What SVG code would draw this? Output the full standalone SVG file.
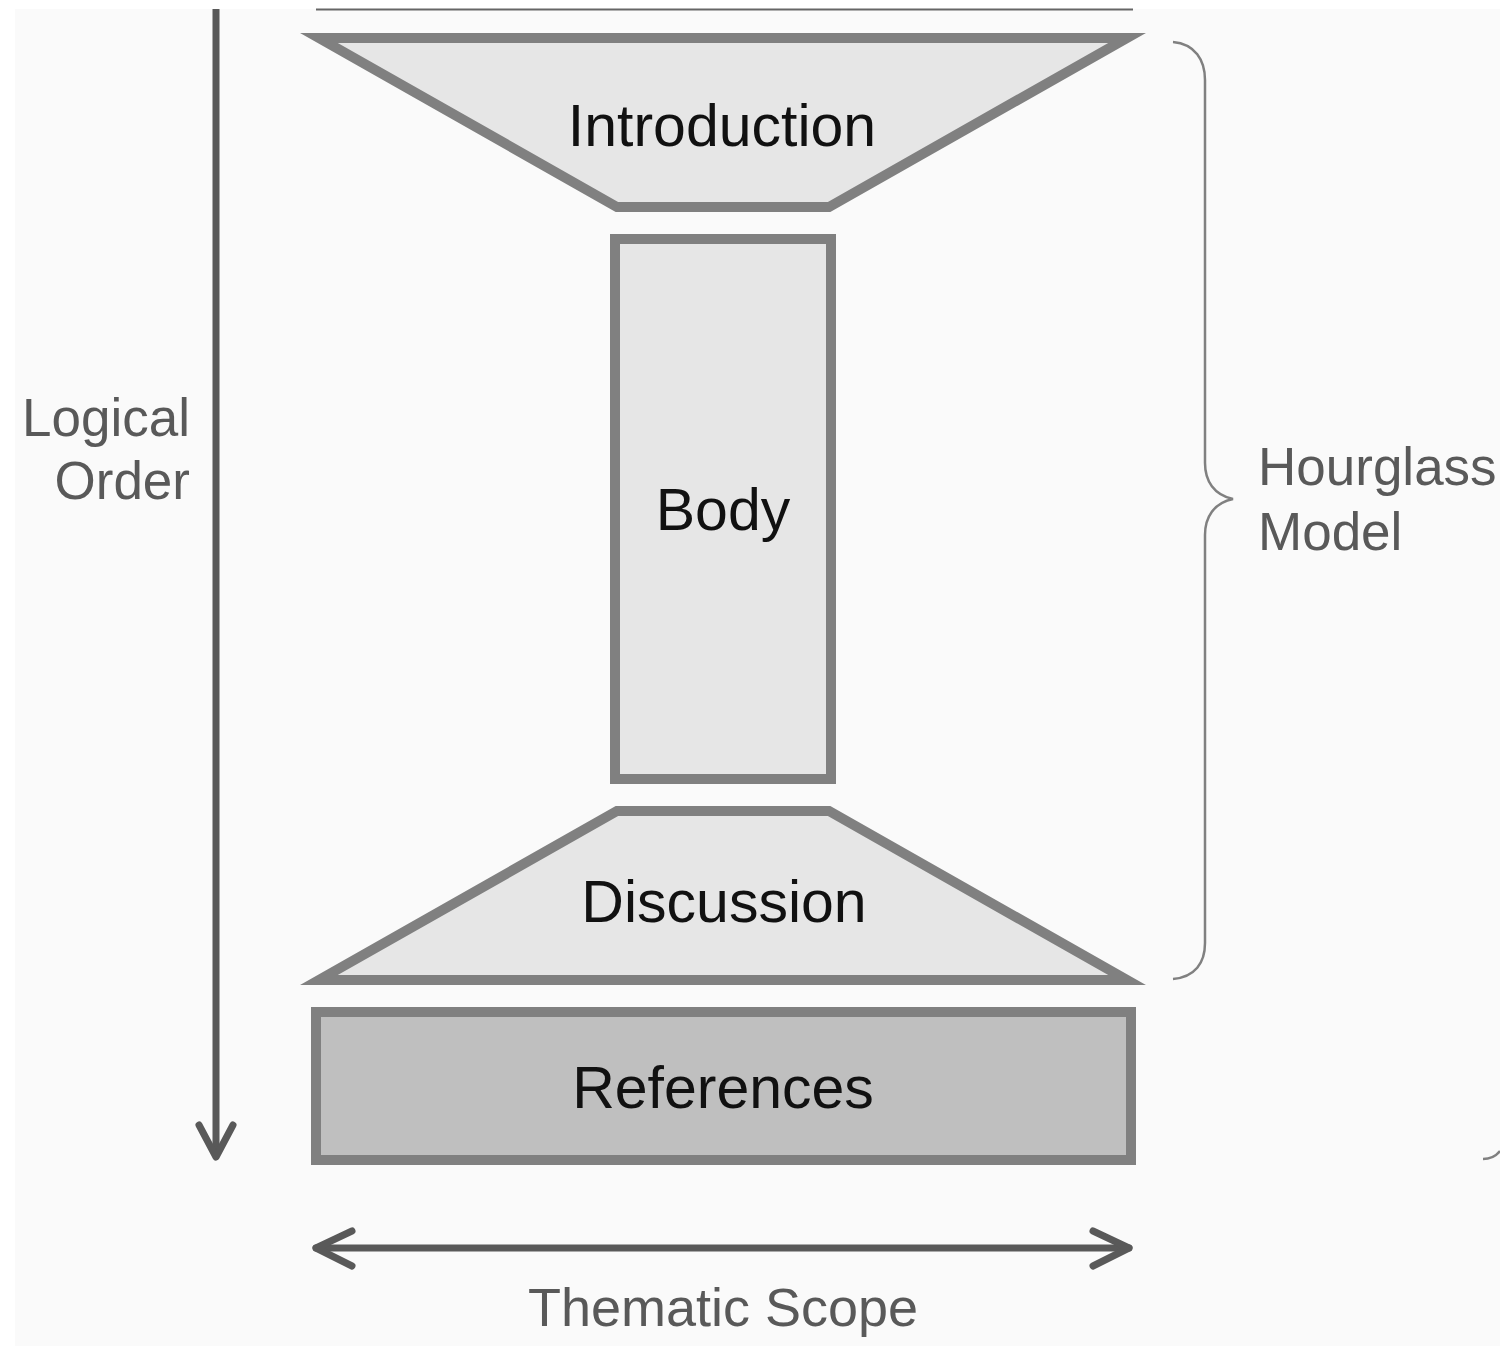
<svg xmlns="http://www.w3.org/2000/svg" width="1500" height="1346" viewBox="0 0 1500 1346">
<style>
.shape{stroke:#808080;stroke-width:10;stroke-linejoin:miter;stroke-miterlimit:10}
.light{fill:#e6e6e6}
.dark{fill:#bfbfbf}
.node-text{font-family:"Liberation Sans",Arial,sans-serif;font-size:59px;fill:#111111;text-anchor:middle}
.label{font-family:"Liberation Sans",Arial,sans-serif;font-size:53px;fill:#595959}
.arrow{stroke:#595959;stroke-width:7;fill:none;stroke-linecap:round;stroke-linejoin:round}
.shaft{stroke:#595959;stroke-width:7;fill:none;stroke-linecap:butt}
.brace{stroke:#808080;stroke-width:2.5;fill:none}
</style>
<rect x="0" y="0" width="1500" height="1346" fill="#ffffff"/>
<rect x="15" y="9" width="1485" height="1337" fill="#fafafa"/>
<line x1="316" y1="9.5" x2="1133" y2="9.5" stroke="#666666" stroke-width="2"/>
<g id="introduction">
<polygon class="shape light" points="319,38 1127,38 829,207 617,207"/>
<text class="node-text" x="722" y="146">Introduction</text>
</g>
<g id="body">
<rect class="shape light" x="615" y="239" width="216" height="540"/>
<text class="node-text" x="723" y="530">Body</text>
</g>
<g id="discussion">
<polygon class="shape light" points="617,811 829,811 1127,980 319,980"/>
<text class="node-text" x="724" y="922">Discussion</text>
</g>
<g id="references">
<rect class="shape dark" x="316" y="1012" width="815" height="148"/>
<text class="node-text" x="723" y="1108">References</text>
</g>
<g id="logical-order">
<text class="label" x="190" y="436" text-anchor="end">Logical</text>
<text class="label" x="190" y="499" text-anchor="end">Order</text>
</g>
<g id="hourglass-model">
<text class="label" x="1258" y="485">Hourglass</text>
<text class="label" x="1258" y="550">Model</text>
</g>
<g id="thematic-scope">
<text class="label" x="723" y="1326" text-anchor="middle" style="font-size:54px">Thematic Scope</text>
</g>
<g id="connectors">
<line class="shaft" x1="216" y1="9" x2="216" y2="1155"/>
<polyline class="arrow" points="199,1125 216,1157 233,1125"/>
<line class="arrow" x1="316" y1="1248" x2="1129" y2="1248"/>
<polyline class="arrow" points="352,1231 316,1248 352,1266"/>
<polyline class="arrow" points="1093,1231 1129,1248 1093,1266"/>
<path class="brace" d="M1173,42 C1195,44 1205,60 1205,80 L1205,463 C1205,481 1214,495 1233,499 C1214,503 1205,517 1205,535 L1205,943 C1205,963 1195,977 1173,979"/>
<path class="brace" d="M1483,1159 C1490,1159 1496,1156 1500,1151"/>
</g>
</svg>
